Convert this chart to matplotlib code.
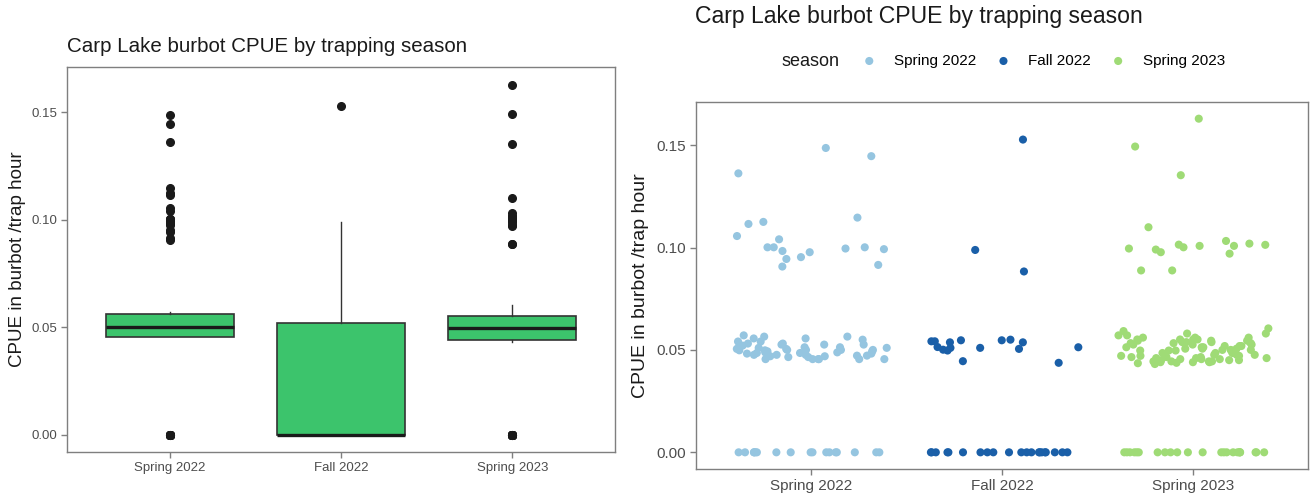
import numpy as np
import matplotlib
matplotlib.use("Agg")
import matplotlib.pyplot as plt

plt.rcParams['font.family'] = ['Liberation Sans', 'DejaVu Sans']

# CPUE (burbot per trap hour) for each trap set, grouped by season
seasons = ["Spring 2022", "Fall 2022", "Spring 2023"]

spring_2022 = [
    0.0, 0.0, 0.0, 0.0, 0.0, 0.0, 0.0, 0.0, 0.0, 0.0, 0.0, 0.0, 0.0, 0.0, 0.0, 0.0, 0.0,
    0.0455, 0.0455, 0.0455, 0.0455, 0.0455, 0.0455,
    0.0465, 0.0465, 0.0469, 0.0469, 0.0472, 0.0472, 0.0476, 0.0476, 0.0476,
    0.0482, 0.0482, 0.0485, 0.0485, 0.0488, 0.0488,
    0.0493, 0.0493, 0.0498, 0.0498, 0.0500, 0.0500, 0.0500, 0.0500,
    0.0505, 0.0505, 0.0510, 0.0510, 0.0513, 0.0513, 0.0521, 0.0521,
    0.0526, 0.0526, 0.0526, 0.0531, 0.0531,
    0.0541, 0.0541, 0.0550, 0.0556, 0.0556, 0.0565, 0.0565, 0.0571,
    0.1486, 0.1446, 0.1362, 0.1146, 0.1125, 0.1115, 0.1056, 0.1040, 0.0995, 0.0977,
    0.1001, 0.1001, 0.0983, 0.1001, 0.0992, 0.0915, 0.0944, 0.0953, 0.0907,
]

fall_2022 = [
    0.0, 0.0, 0.0, 0.0, 0.0, 0.0, 0.0, 0.0, 0.0, 0.0, 0.0,
    0.0, 0.0, 0.0, 0.0, 0.0, 0.0, 0.0, 0.0, 0.0, 0.0,
    0.0510, 0.0513, 0.0497, 0.0445, 0.0510, 0.0542, 0.0437, 0.0537,
    0.0537, 0.0547, 0.0514, 0.0505, 0.0547, 0.0542, 0.0501, 0.0550,
    0.1527, 0.0988, 0.0883,
]

spring_2023 = [
    0.0, 0.0, 0.0, 0.0, 0.0, 0.0, 0.0, 0.0, 0.0, 0.0, 0.0, 0.0,
    0.0, 0.0, 0.0, 0.0, 0.0, 0.0, 0.0, 0.0, 0.0, 0.0, 0.0,
    0.0431, 0.0435, 0.0437, 0.0440, 0.0440, 0.0440,
    0.0444, 0.0444, 0.0444, 0.0444, 0.0450, 0.0450, 0.0450,
    0.0455, 0.0455, 0.0455, 0.0460, 0.0460, 0.0460,
    0.0465, 0.0465, 0.0465, 0.0471, 0.0471, 0.0471,
    0.0476, 0.0476, 0.0476, 0.0485, 0.0485, 0.0485,
    0.0497, 0.0497, 0.0497, 0.0497, 0.0500, 0.0500, 0.0500,
    0.0506, 0.0506, 0.0506, 0.0513, 0.0513, 0.0513,
    0.0519, 0.0519, 0.0519, 0.0526, 0.0526, 0.0526,
    0.0533, 0.0533, 0.0533, 0.0538, 0.0538, 0.0538,
    0.0545, 0.0545, 0.0545, 0.0551, 0.0551, 0.0551, 0.0551,
    0.0560, 0.0560, 0.0560, 0.0571, 0.0571, 0.0580, 0.0580, 0.0592, 0.0605,
    0.1629, 0.1493, 0.1353, 0.1099, 0.1032, 0.1008, 0.0977, 0.0990, 0.1019,
    0.1008, 0.1001, 0.1014, 0.0970, 0.1013, 0.0995, 0.0888, 0.0888,
]

y_ticks = [0.00, 0.05, 0.10, 0.15]
y_tick_labels = ["0.00", "0.05", "0.10", "0.15"]
title = "Carp Lake burbot CPUE by trapping season"
y_title = "CPUE in burbot /trap hour"

box_fill = "#3CC46C"
point_colors = ["#95C5E0", "#1A5FA8", "#9FDB76"]

W, H = 1312, 495
fig = plt.figure(figsize=(W / 100, H / 100), dpi=100)


def frac(left, top, right, bottom):
    return [left / W, 1 - bottom / H, (right - left) / W, (bottom - top) / H]


groups = [np.array(g) for g in (spring_2022, fall_2022, spring_2023)]
pos = np.arange(1, len(seasons) + 1)
all_vals = np.concatenate(groups)
span = all_vals.max() - all_vals.min()
ylim = (all_vals.min() - 0.05 * span, all_vals.max() + 0.05 * span)


def style(ax, labelsize, titlesize, label_x):
    ax.set_xlim(0.4, 3.6)
    ax.set_ylim(*ylim)
    ax.set_xticks(pos, seasons)
    ax.set_yticks(y_ticks, y_tick_labels)
    for s in ax.spines.values():
        s.set_color("#7F7F7F")
        s.set_linewidth(1.0)
    ax.tick_params(colors="#7F7F7F", labelcolor="#4D4D4D", length=4,
                   width=1, labelsize=labelsize, pad=3)
    ax.set_ylabel(y_title, fontsize=titlesize, color="#1A1A1A")
    ax.yaxis.set_label_coords(label_x, 0.5)


# Left: boxplot of CPUE per season
ax1 = fig.add_axes(frac(67, 67, 615, 452))
ax1.boxplot(groups, positions=pos, widths=0.75, patch_artist=True,
            showcaps=False,
            boxprops=dict(facecolor=box_fill, edgecolor="#333333", linewidth=1.2),
            medianprops=dict(color="#1A1A1A", linewidth=2.4),
            whiskerprops=dict(color="#333333", linewidth=1.0),
            flierprops=dict(marker="o", markerfacecolor="#1A1A1A",
                            markeredgecolor="#1A1A1A", markersize=5.5))
style(ax1, 9.5, 13.5, -0.074)
fig.text(67 / W, 1 - 47 / H, title, fontsize=14.8, va="center", color="#1A1A1A")

# Right: jittered points per season
ax2 = fig.add_axes(frac(696, 102, 1308, 469))
rng = np.random.default_rng(11)
handles = []
for i, (g, c) in enumerate(zip(groups, point_colors)):
    x = pos[i] + rng.uniform(-0.4, 0.4, size=len(g))
    h = ax2.scatter(x, g, s=34, color=c, edgecolors="none", label=seasons[i])
    handles.append(h)
style(ax2, 11, 14, -0.077)
fig.text(695 / W, 1 - 17 / H, title, fontsize=16.6, va="center", color="#1A1A1A")

fig.text(782 / W, 1 - 61 / H, "season", fontsize=13, va="center", color="#1A1A1A")
fig.legend(handles, seasons, ncol=3, loc="center left",
           bbox_to_anchor=(854 / W, 1 - 61 / H), frameon=False,
           fontsize=11, handletextpad=0.6, columnspacing=0.8,
           borderaxespad=0, borderpad=0, scatterpoints=1)

fig.savefig("out.png", dpi=100)
